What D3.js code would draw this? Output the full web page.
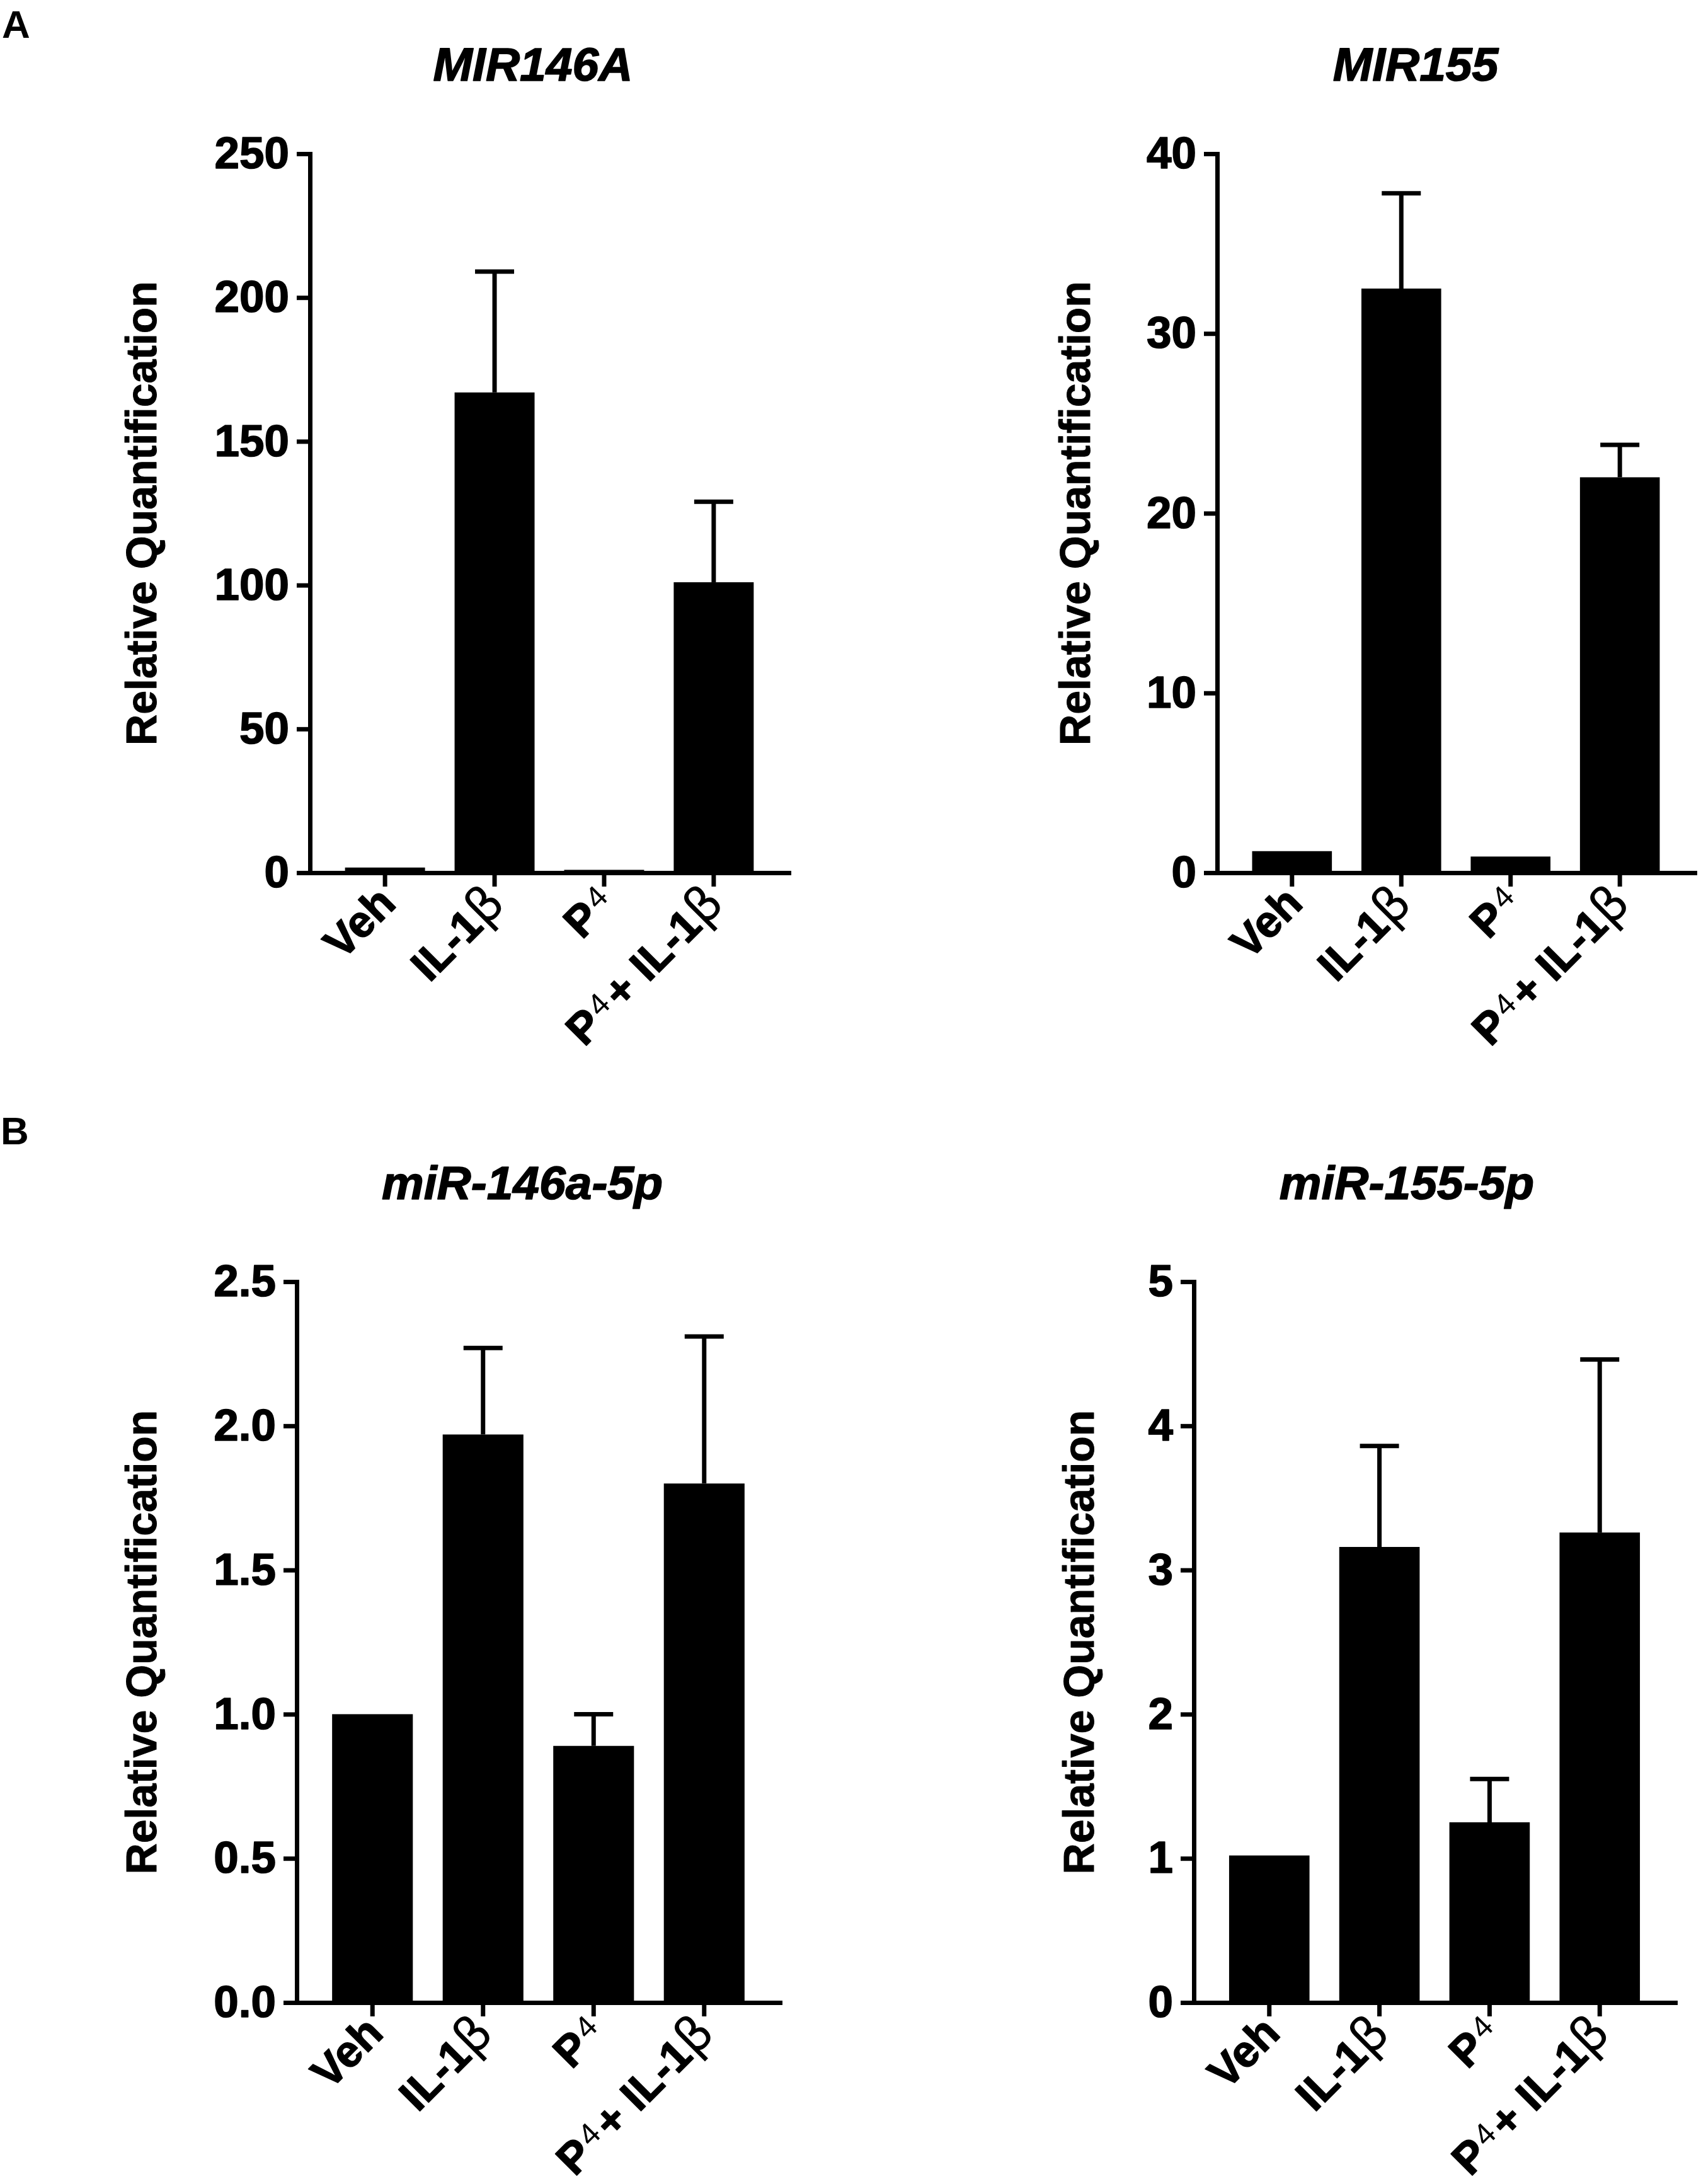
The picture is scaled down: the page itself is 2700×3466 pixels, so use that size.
<!DOCTYPE html>
<html>
<head>
<meta charset="utf-8">
<script src="https://cdn.jsdelivr.net/npm/d3@7"></script>
<style>
  body { margin: 0; background: #fff; }
  text { font-family: "Liberation Sans", Arial, sans-serif; fill: #000; }
</style>
</head>
<body>
<div class="figure"></div>
<script>
// groups on the x axis
var categories = ["Veh", "IL-1β", "P4", "P4 + IL-1β"];

// panel A: precursor transcripts
var mir146aMean = [1.8, 167, 1.0, 101];
var mir146aSem  = [0, 42, 0, 28];
var mir146aTicks = [0, 50, 100, 150, 200, 250];

var mir155Mean = [1.2, 32.5, 0.9, 22.0];
var mir155Sem  = [0, 5.3, 0, 1.8];
var mir155Ticks = [0, 10, 20, 30, 40];

// panel B: mature miRNAs
var mir146a5pMean = [1.0, 1.97, 0.89, 1.80];
var mir146a5pSem  = [0, 0.30, 0.11, 0.51];
var mir146a5pTicks = [0.0, 0.5, 1.0, 1.5, 2.0, 2.5];

var mir1555pMean = [1.02, 3.16, 1.25, 3.26];
var mir1555pSem  = [0, 0.70, 0.30, 1.20];
var mir1555pTicks = [0, 1, 2, 3, 4, 5];

var width = 2700, height = 3466;

var panels = [
  {title: "MIR146A", mean: mir146aMean, sem: mir146aSem, ticks: mir146aTicks, fmt: d3.format("d"),
   x0: 492, x1: 1252, y0: 244, y1: 1385, titleX: 846, titleY: 128, labelX: 248},
  {title: "MIR155", mean: mir155Mean, sem: mir155Sem, ticks: mir155Ticks, fmt: d3.format("d"),
   x0: 1932, x1: 2690, y0: 244, y1: 1385, titleX: 2247, titleY: 128, labelX: 1730},
  {title: "miR-146a-5p", mean: mir146a5pMean, sem: mir146a5pSem, ticks: mir146a5pTicks, fmt: d3.format(".1f"),
   x0: 471, x1: 1238, y0: 2034, y1: 3178, titleX: 829, titleY: 1903, labelX: 248},
  {title: "miR-155-5p", mean: mir1555pMean, sem: mir1555pSem, ticks: mir1555pTicks, fmt: d3.format("d"),
   x0: 1895, x1: 2659, y0: 2034, y1: 3178, titleX: 2233, titleY: 1903, labelX: 1736}
];

var svg = d3.select(".figure").append("svg")
    .attr("width", width).attr("height", height)
    .attr("viewBox", "0 0 " + width + " " + height);

svg.append("rect").attr("width", width).attr("height", height).attr("fill", "#fff");

// heavier strokes on the bold text, like the GraphPad export
function heavy(sel, w) {
  return sel.attr("stroke", "#000").attr("stroke-width", w || 1.6).attr("stroke-linejoin", "round");
}

// panel letters
svg.append("text").attr("x", 3).attr("y", 60).attr("font-size", 62).attr("font-weight", "bold").text("A");
svg.append("text").attr("x", 1).attr("y", 1816).attr("font-size", 62).attr("font-weight", "bold").text("B");

// writes a group label, with the small 4 and a light beta
function writeLabel(sel, name) {
  var parts;
  if (name === "Veh") parts = [["Veh", "b"]];
  else if (name === "IL-1β") parts = [["IL-1", "b"], ["β", "n"]];
  else if (name === "P4") parts = [["P", "b"], ["4", "s"]];
  else parts = [["P", "b"], ["4", "s"], ["+ IL-1", "b"], ["β", "n"]];
  var shifted = false;
  parts.forEach(function(p) {
    var t = sel.append("tspan").text(p[0]);
    if (p[1] === "n") {
      t.attr("font-weight", "normal").attr("stroke-width", 0).attr("font-size", "112%")
        .attr("font-family", "DejaVu Sans, sans-serif");
    }
    if (p[1] === "s") {
      t.attr("font-weight", "normal").attr("stroke-width", 0).attr("font-size", "70%")
        .attr("dy", "-0.32em").attr("dx", "4");
      shifted = true;
    } else if (shifted) {
      t.attr("dy", "0.22em").attr("dx", "6");
      shifted = false;
    }
  });
}

panels.forEach(function(p) {
  var g = svg.append("g");

  var x = d3.scaleBand().domain(categories).range([p.x0, p.x1])
      .paddingInner(0.27).paddingOuter(0.32);
  var y = d3.scaleLinear().domain([0, d3.max(p.ticks)]).range([p.y1, p.y0]);

  // title
  heavy(g.append("text").attr("x", p.titleX).attr("y", p.titleY)
      .attr("text-anchor", "middle").attr("font-size", 75)
      .attr("font-weight", "bold").attr("font-style", "italic")
      .text(p.title));

  // y label
  heavy(g.append("text")
      .attr("transform", "translate(" + p.labelX + "," + (p.y0 + p.y1) / 2 + ") rotate(-90)")
      .attr("text-anchor", "middle").attr("font-size", 68).attr("font-weight", "bold")
      .text("Relative Quantification"), 1);

  // bars
  g.selectAll(".bar").data(p.mean).enter().append("rect")
      .attr("x", function(d, i) { return x(categories[i]); })
      .attr("width", x.bandwidth())
      .attr("y", function(d) { return y(d); })
      .attr("height", function(d) { return y(0) - y(d); })
      .attr("fill", "#000");

  // error bars (upper only)
  var errs = p.mean.map(function(m, i) { return {cat: categories[i], mean: m, sem: p.sem[i]}; })
      .filter(function(d) { return d.sem > 0; });
  var err = g.selectAll(".err").data(errs).enter().append("g");
  err.append("line")
      .attr("x1", function(d) { return x(d.cat) + x.bandwidth() / 2; })
      .attr("x2", function(d) { return x(d.cat) + x.bandwidth() / 2; })
      .attr("y1", function(d) { return y(d.mean); })
      .attr("y2", function(d) { return y(d.mean + d.sem); })
      .attr("stroke", "#000").attr("stroke-width", 7);
  err.append("line")
      .attr("x1", function(d) { return x(d.cat) + x.bandwidth() / 2 - 31; })
      .attr("x2", function(d) { return x(d.cat) + x.bandwidth() / 2 + 31; })
      .attr("y1", function(d) { return y(d.mean + d.sem); })
      .attr("y2", function(d) { return y(d.mean + d.sem); })
      .attr("stroke", "#000").attr("stroke-width", 7);

  // y axis
  var ya = g.append("g").attr("transform", "translate(" + p.x0 + ",0)")
      .call(d3.axisLeft(y).tickValues(p.ticks).tickFormat(p.fmt)
        .tickSize(21).tickSizeOuter(0).tickPadding(12));
  ya.selectAll("path, line").attr("stroke", "#000").attr("stroke-width", 7);
  ya.select(".domain").attr("stroke-linecap", "square");
  heavy(ya.selectAll("text").attr("font-size", 71).attr("font-weight", "bold")
      .attr("font-family", "Liberation Sans, Arial, sans-serif").attr("fill", "#000"));

  // x axis
  var xa = g.append("g").attr("transform", "translate(0," + p.y1 + ")")
      .call(d3.axisBottom(x).tickSize(22).tickSizeOuter(0).tickFormat(""));
  xa.selectAll("path, line").attr("stroke", "#000").attr("stroke-width", 7);
  xa.select(".domain").attr("stroke-linecap", "square");
  xa.selectAll(".tick text").remove();

  heavy(g.selectAll(".xlab").data(categories).enter().append("text")
      .attr("transform", function(d) {
        return "translate(" + (x(d) + x.bandwidth() / 2 + 20) + "," + (p.y1 + 52) + ") rotate(-45)";
      })
      .attr("text-anchor", "end").attr("font-size", 70).attr("font-weight", "bold")
      .each(function(d) { writeLabel(d3.select(this), d); }));
});
</script>
</body>
</html>
